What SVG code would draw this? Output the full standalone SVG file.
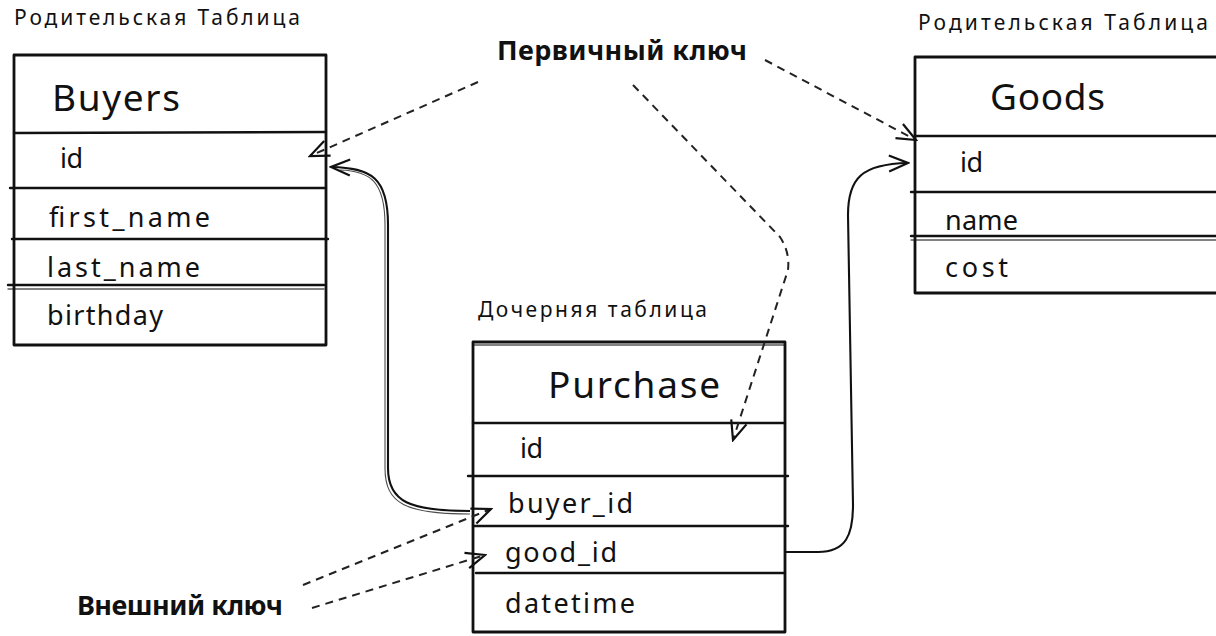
<svg xmlns="http://www.w3.org/2000/svg" width="1216" height="636" viewBox="0 0 1216 636">
<style>
  .bg{fill:#ffffff}
  .box{fill:none;stroke:#111;stroke-width:2.8;stroke-linejoin:round}
  .ln{fill:none;stroke:#111;stroke-width:2.4;stroke-linecap:round}
  .ln2{fill:none;stroke:#111;stroke-width:1.3;stroke-linecap:round;opacity:.7}
  .title{font-family:"Noto Sans","DejaVu Sans",sans-serif;font-size:37px;fill:#111}
  .field{font-family:"Noto Sans","DejaVu Sans",sans-serif;font-size:27px;fill:#111}
  .cap{font-family:"Noto Sans","DejaVu Sans",sans-serif;font-size:21px;fill:#111}
  .key{font-family:"Noto Sans","DejaVu Sans",sans-serif;font-size:27px;font-weight:bold;fill:#111}
  .dash{fill:none;stroke:#222;stroke-width:2;stroke-dasharray:8 6}
  .solid{fill:none;stroke:#111;stroke-width:2.1}
  .solid2{fill:none;stroke:#111;stroke-width:1.1;opacity:.75}
</style>
<defs>
  <marker id="arr" viewBox="0 0 24 24" refX="22" refY="12" markerWidth="24" markerHeight="24" orient="auto" markerUnits="userSpaceOnUse">
    <path d="M3,4 L22,12 L3,20" fill="none" stroke="#111" stroke-width="2.2" stroke-linejoin="miter"/>
  </marker>
</defs>
<rect class="bg" x="0" y="0" width="1216" height="636"/>

<g id="labels">
  <text class="cap" x="14" y="25" textLength="286">Родительская Таблица</text>
  <text class="cap" x="918" y="30" textLength="290">Родительская Таблица</text>
  <text class="cap" x="478" y="317" textLength="229">Дочерняя таблица</text>
  <text class="key" x="497" y="60" textLength="250">Первичный ключ</text>
  <text class="key" x="77" y="615" textLength="206">Внешний ключ</text>
</g>

<g id="buyers">
  <rect class="box" x="14" y="55" width="312" height="290"/>
  <path class="ln" d="M14,133 L326,132"/>
  <path class="ln" d="M10,188 L326,188"/>
  <path class="ln" d="M12,239 L328,239"/>
  <path class="ln" d="M8,285 L324,285"/>
  <path class="ln2" d="M8,289 L324,289"/>
  <text class="title" x="52" y="111" textLength="128">Buyers</text>
  <text class="field" x="60" y="168" textLength="23">id</text>
  <text class="field" x="49" y="227" textLength="161">first_name</text>
  <text class="field" x="47" y="277" textLength="153">last_name</text>
  <text class="field" x="47" y="325" textLength="116">birthday</text>
</g>

<g id="goods">
  <rect class="box" x="915" y="57" width="310" height="236"/>
  <path class="ln" d="M915,136 L1216,136"/>
  <path class="ln" d="M911,192 L1216,192"/>
  <path class="ln" d="M911,236 L1216,236"/>
  <path class="ln2" d="M911,240 L1216,240"/>
  <text class="title" x="990" y="110" textLength="115">Goods</text>
  <text class="field" x="960" y="172" textLength="23">id</text>
  <text class="field" x="945" y="230" textLength="73">name</text>
  <text class="field" x="945" y="277" textLength="63">cost</text>
</g>

<g id="purchase">
  <rect class="box" x="473" y="342" width="312" height="290"/>
  <path class="ln2" d="M473,345 L785,345"/>
  <path class="ln" d="M473,423 L785,423"/>
  <path class="ln" d="M468,476 L788,476"/>
  <path class="ln" d="M473,526 L788,526"/>
  <path class="ln" d="M476,573 L785,573"/>
  <text class="title" x="548" y="398" textLength="172">Purchase</text>
  <text class="field" x="520" y="458" textLength="23">id</text>
  <text class="field" x="508" y="513" textLength="125">buyer_id</text>
  <text class="field" x="505" y="562" textLength="112">good_id</text>
  <text class="field" x="505" y="613" textLength="130">datetime</text>
</g>

<g id="connectors">
  <path class="dash" d="M478,82 L310,156" marker-end="url(#arr)"/>
  <path class="dash" d="M765,60 L916,140" marker-end="url(#arr)"/>
  <path class="dash" d="M633,85 L780,237 Q790,252 788,270 L733,440" marker-end="url(#arr)"/>
  <path class="solid" d="M470,511 C410,511 388,502 388,468 L388,225 C388,178 372,168 331,167" marker-end="url(#arr)"/>
  <path class="solid2" d="M470,514 C406,514 385,504 385,468 L385,225 C385,181 370,171 340,170"/>
  <path class="solid" d="M785,552 L818,552 C846,552 853,535 853,505 L848,215 C848,178 862,164 908,163" marker-end="url(#arr)"/>
  <path class="dash" d="M303,585 L491,509" marker-end="url(#arr)"/>
  <path class="dash" d="M312,608 L485,555" marker-end="url(#arr)"/>
</g>
</svg>
